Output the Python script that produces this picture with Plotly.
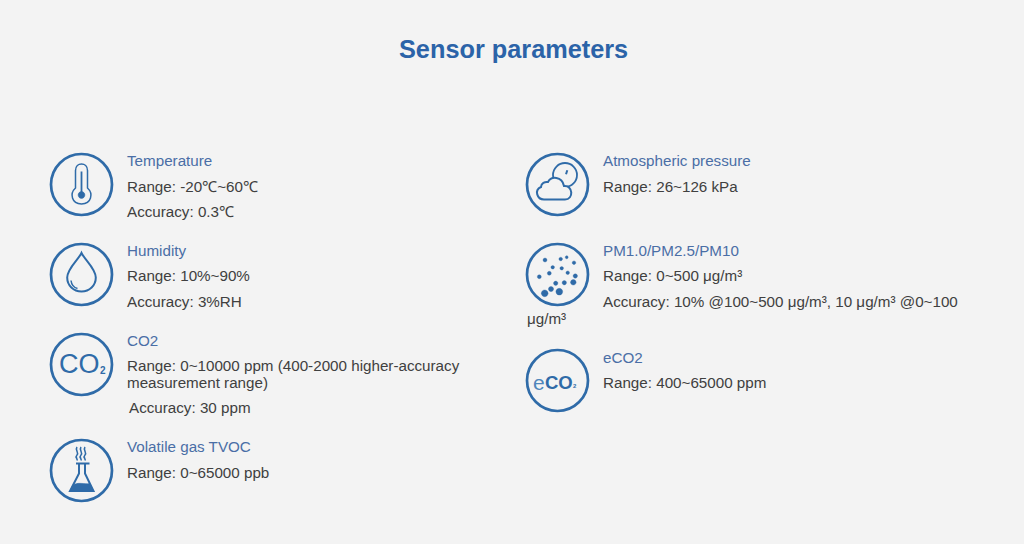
import plotly.graph_objects as go

title = 'Sensor parameters'

left_names = ['Temperature', 'Humidity', 'CO2', 'Volatile gas TVOC']
left_name_y = [160, 250, 340, 446]
left_lines = ['Range: -20℃~60℃', 'Accuracy: 0.3℃', 'Range: 10%~90%', 'Accuracy: 3%RH',
              'Range: 0~10000 ppm (400-2000 higher-accuracy', 'measurement range)',
              'Range: 0~65000 ppb']
left_line_y = [186, 211, 275, 301, 365, 382, 472]

right_names = ['Atmospheric pressure', 'PM1.0/PM2.5/PM10', 'eCO2']
right_name_y = [160, 250, 357]
right_lines = ['Range: 26~126 kPa', 'Range: 0~500 μg/m³',
               'Accuracy: 10% @100~500 μg/m³, 10 μg/m³ @0~100', 'Range: 400~65000 ppm']
right_line_y = [186, 275, 301, 382]

BG = '#f3f3f3'
BLUE = '#2f6ba8'
NAME_COLOR = '#4a6ea6'
TEXT_COLOR = '#404040'
FONT = 'Liberation Sans'
SIZE = 15.2

fig = go.Figure()


def label(text, x, y, size=SIZE, color=TEXT_COLOR, anchor='left', weight='normal'):
    fig.add_annotation(x=x, y=y, text=text, showarrow=False, xanchor=anchor, yanchor='middle',
                       xref='x', yref='y', borderpad=0, borderwidth=0,
                       font=dict(family=FONT, size=size, color=color, weight=weight))


def circle_path(cx, cy, r):
    k = r * 0.5523
    return (f'M {cx - r},{cy} C {cx - r},{cy - k} {cx - k},{cy - r} {cx},{cy - r} '
            f'C {cx + k},{cy - r} {cx + r},{cy - k} {cx + r},{cy} '
            f'C {cx + r},{cy + k} {cx + k},{cy + r} {cx},{cy + r} '
            f'C {cx - k},{cy + r} {cx - r},{cy + k} {cx - r},{cy} Z')


def draw(path, width=2.0, fill=None, line=BLUE):
    fig.add_shape(type='path', path=path, xref='x', yref='y',
                  line=dict(color=line, width=width),
                  fillcolor=fill if fill else 'rgba(0,0,0,0)')


def ring(cx, cy):
    draw(circle_path(cx, cy, 30.5), width=2.7)


def thermometer(cx, cy):
    ring(cx, cy)
    x, y = cx, cy
    draw(f'M {x - 6},{y + 3.5} L {x - 6},{y - 14} C {x - 6},{y - 22.7} {x + 6},{y - 22.7} {x + 6},{y - 14} '
         f'L {x + 6},{y + 3.5} C {x + 12},{y + 9} {x + 10},{y + 19.5} {x},{y + 19.5} '
         f'C {x - 10},{y + 19.5} {x - 12},{y + 9} {x - 6},{y + 3.5} Z', width=1.5)
    draw(f'M {x},{y - 13} L {x},{y + 10}', width=1.8)
    draw(circle_path(x, y + 10.5, 3.4), width=0.5, fill=BLUE)


def drop(cx, cy):
    ring(cx, cy)
    x, y = cx, cy
    draw(f'M {x},{y - 21.5} C {x + 3},{y - 15} {x + 14.3},{y - 6} {x + 14.3},{y + 3} '
         f'C {x + 14.3},{y + 11} {x + 8},{y + 17} {x},{y + 17} '
         f'C {x - 8},{y + 17} {x - 14.3},{y + 11} {x - 14.3},{y + 3} '
         f'C {x - 14.3},{y - 6} {x - 3},{y - 15} {x},{y - 21.5} Z', width=2)
    draw(f'M {x - 10.5},{y + 6} C {x - 10},{y + 10} {x - 8},{y + 13} {x - 4},{y + 14}', width=1.5)


def flask(cx, cy):
    ring(cx, cy)
    x, y = cx, cy
    draw(f'M {x - 5.5},{y - 7} L {x + 8},{y - 7}', width=2)
    draw(f'M {x - 2.5},{y - 7} L {x - 2.5},{y + 3} L {x - 11.5},{y + 20.5} L {x + 12},{y + 20.5} '
         f'L {x + 3.5},{y + 3} L {x + 3.5},{y - 7}', width=2)
    draw(f'M {x - 9},{y + 15} C {x - 4},{y + 11} {x + 3},{y + 14} {x + 8},{y + 13} '
         f'L {x + 12},{y + 20.5} L {x - 11.5},{y + 20.5} Z', width=0.5, fill=BLUE)
    for dx in [-4.5, -0.5, 3.5]:
        draw(f'M {x + dx},{y - 23.5} C {x + dx - 2.5},{y - 20} {x + dx + 2.5},{y - 18} {x + dx},{y - 15.5} '
             f'C {x + dx - 2.5},{y - 13} {x + dx + 1},{y - 12} {x + dx},{y - 10}', width=1.6)


def cloud(cx, cy):
    ring(cx, cy)
    draw(circle_path(cx + 7.5, cy - 9.5, 12), width=1.8)
    draw(f'M {cx + 8.5},{cy - 10.2} L {cx + 9.8},{cy - 14.2}', width=2)
    x, y = cx - 557.5, cy - 184.5
    draw(f'M {544 + x},{199.5 + y} C {537 + x},{199.5 + y} {534 + x},{190 + y} {541 + x},{187 + y} '
         f'C {541 + x},{183 + y} {545 + x},{181.5 + y} {548 + x},{182 + y} '
         f'C {551 + x},{176 + y} {562 + x},{176 + y} {564 + x},{186 + y} '
         f'C {573 + x},{185 + y} {574 + x},{199.5 + y} {565 + x},{199.5 + y} Z', width=2, fill=BG)


def particles(cx, cy):
    ring(cx, cy)
    dots = [(-12.5, -14.5, 2), (3.2, -15.5, 1.8), (9.2, -17.2, 1.5), (16.5, -11.8, 1.8), (-4.8, -7.2, 1.8),
            (4.2, -6.2, 1.8), (-18.2, 2.2, 2), (-8.2, -1.2, 2), (10.2, -1.8, 1.8), (17.8, 1.5, 2.2),
            (-1.8, 8.8, 2.2), (6.8, 8.2, 2.2), (15.8, 7.8, 2.8), (-6.5, 14.5, 2.6), (-12.8, 18.8, 3.4),
            (1.8, 17.2, 3.4)]
    for dx, dy, r in dots:
        draw(circle_path(cx + dx, cy + dy, r), width=0.3, fill=BLUE)


thermometer(81.5, 184.5)
drop(81.5, 274.5)
ring(81.5, 364.5)
label('CO', 59, 364, size=27, color=BLUE)
label('2', 99.6, 370, size=10, color=BLUE, weight='bold')
flask(81.5, 470.5)

cloud(557.5, 184.5)
particles(557.5, 274.5)
ring(557.5, 380.5)
label('e', 532.5, 382, size=21, color='#4f86bb')
label('CO', 545, 382, size=18.5, color=BLUE, weight='bold')
label('2', 573, 385.5, size=6, color=BLUE, weight='bold')

label(title, 513.5, 48.5, size=25.3, color='#2b63a8', anchor='center', weight='bold')

for name, y in zip(left_names, left_name_y):
    label(name, 127, y, color=NAME_COLOR)
for text, y in zip(left_lines, left_line_y):
    label(text, 127, y)
label('Accuracy: 30 ppm', 129, 407)

for name, y in zip(right_names, right_name_y):
    label(name, 603, y, color=NAME_COLOR)
for text, y in zip(right_lines, right_line_y):
    label(text, 603, y)
label('μg/m³', 526.5, 318)

fig.update_xaxes(range=[0, 1024], visible=False, fixedrange=True)
fig.update_yaxes(range=[544, 0], visible=False, fixedrange=True)
fig.update_layout(width=1024, height=544, margin=dict(l=0, r=0, t=0, b=0),
                  paper_bgcolor=BG, plot_bgcolor=BG, showlegend=False)

fig.write_html('out.html', config={'displayModeBar': False},
               post_script="document.body.style.margin='0';document.body.style.background='#f3f3f3';")
